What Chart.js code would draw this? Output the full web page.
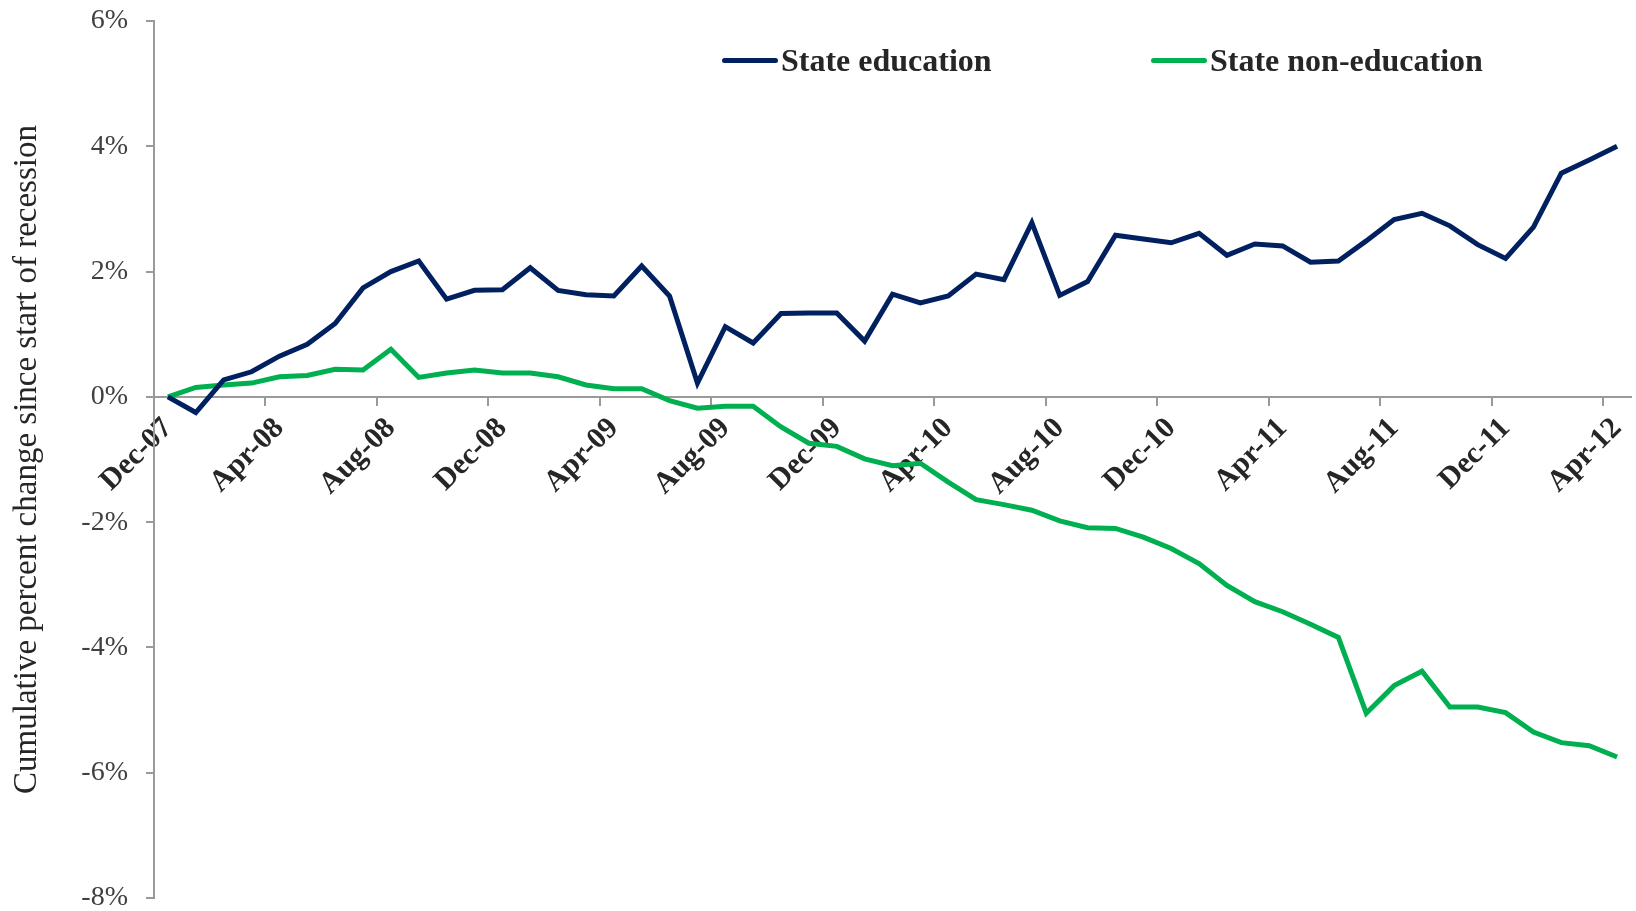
<!DOCTYPE html>
<html>
<head>
<meta charset="utf-8">
<script src="https://cdn.jsdelivr.net/npm/chart.js@4.4.1/dist/chart.umd.min.js"></script>
<style>
  html, body { margin: 0; padding: 0; background: #fff; }
  #wrap { position: relative; width: 1636px; height: 911px; }
  .legend-item {
    position: absolute;
    top: 42px;
    display: flex;
    align-items: center;
    font-family: "Liberation Serif", "DejaVu Serif", serif;
    font-weight: bold;
    font-size: 32px;
    color: #262626;
    white-space: nowrap;
  }
  .legend-item .swatch {
    display: inline-block;
    width: 56px;
    height: 5px;
    border-radius: 3px;
    margin-right: 3px;
  }
</style>
</head>
<body>
<div id="wrap">
  <canvas id="chart" width="1636" height="911"></canvas>
  <div class="legend-item" style="left:722px;"><span class="swatch" style="background:#002060;"></span>State education</div>
  <div class="legend-item" style="left:1151px;"><span class="swatch" style="background:#00b050;"></span>State non-education</div>
</div>
<script>
// months since start of recession
const months = [
  "Dec-07",
  "Jan-08", "Feb-08", "Mar-08", "Apr-08", "May-08", "Jun-08", "Jul-08", "Aug-08", "Sep-08", "Oct-08", "Nov-08", "Dec-08",
  "Jan-09", "Feb-09", "Mar-09", "Apr-09", "May-09", "Jun-09", "Jul-09", "Aug-09", "Sep-09", "Oct-09", "Nov-09", "Dec-09",
  "Jan-10", "Feb-10", "Mar-10", "Apr-10", "May-10", "Jun-10", "Jul-10", "Aug-10", "Sep-10", "Oct-10", "Nov-10", "Dec-10",
  "Jan-11", "Feb-11", "Mar-11", "Apr-11", "May-11", "Jun-11", "Jul-11", "Aug-11", "Sep-11", "Oct-11", "Nov-11", "Dec-11",
  "Jan-12", "Feb-12", "Mar-12", "Apr-12"
];

const stateEducation = [
  0, -0.25, 0.27, 0.40, 0.65, 0.84, 1.17, 1.74, 2.00, 2.17,
  1.56, 1.70, 1.71, 2.06, 1.70, 1.63, 1.61, 2.09, 1.61, 0.22,
  1.12, 0.86, 1.33, 1.34, 1.34, 0.89, 1.64, 1.50, 1.61, 1.96,
  1.87, 2.78, 1.62, 1.84, 2.58, 2.52, 2.46, 2.61, 2.26, 2.44,
  2.41, 2.15, 2.17, 2.49, 2.83, 2.93, 2.73, 2.43, 2.21, 2.71,
  3.57, 3.78, 4.00
];

const stateNonEducation = [
  0, 0.15, 0.19, 0.22, 0.32, 0.34, 0.44, 0.43, 0.76, 0.31,
  0.38, 0.43, 0.38, 0.38, 0.32, 0.19, 0.13, 0.13, -0.06, -0.18,
  -0.15, -0.15, -0.48, -0.74, -0.79, -0.99, -1.10, -1.06, -1.36, -1.64,
  -1.72, -1.81, -1.98, -2.09, -2.10, -2.24, -2.42, -2.66, -3.01, -3.27,
  -3.43, -3.63, -3.84, -5.05, -4.61, -4.38, -4.95, -4.95, -5.04, -5.35,
  -5.52, -5.57, -5.75
];

const yMin = -8;
const yMax = 6;
const yStep = 2;
const labelEvery = 4;

const serif = "'Liberation Serif', 'DejaVu Serif', serif";
const axisGray = "#9a9a9a";

new Chart(document.getElementById("chart"), {
  type: "line",
  data: {
    labels: months,
    datasets: [
      {
        label: "State education",
        data: stateEducation,
        borderColor: "#002060",
        borderWidth: 5,
        pointRadius: 0,
        tension: 0,
        fill: false,
      },
      {
        label: "State non-education",
        data: stateNonEducation,
        borderColor: "#00b050",
        borderWidth: 5,
        pointRadius: 0,
        tension: 0,
        fill: false,
      },
    ],
  },
  options: {
    responsive: false,
    animation: false,
    layout: { padding: { top: 21, right: 5, bottom: 13, left: 0 } },
    plugins: {
      legend: { display: false },
      tooltip: { enabled: false },
    },
    scales: {
      x: {
        type: "category",
        position: { y: 0 },
        offset: true,
        border: { color: axisGray, width: 2 },
        grid: {
          offset: true,
          drawOnChartArea: false,
          tickLength: 8,
          lineWidth: 2,
          color: (ctx) => (ctx.index % labelEvery === 0 ? axisGray : "rgba(0,0,0,0)"),
        },
        ticks: {
          autoSkip: false,
          minRotation: 45,
          maxRotation: 45,
          padding: 6,
          color: "#262626",
          font: { family: serif, size: 30, weight: "bold" },
          callback: (v, i) => (i % labelEvery === 0 ? months[i] : ""),
        },
        afterFit: (scale) => {
          scale.paddingTop = 0;
          scale.paddingBottom = 0;
          scale.paddingLeft = 0;
          scale.paddingRight = 0;
        },
      },
      y: {
        min: yMin,
        max: yMax,
        border: { color: axisGray, width: 2 },
        grid: {
          drawOnChartArea: false,
          tickLength: 8,
          lineWidth: 2,
          color: axisGray,
        },
        ticks: {
          stepSize: yStep,
          padding: 18,
          color: "#404040",
          font: { family: serif, size: 28 },
          callback: (v) => v + "%",
        },
        title: {
          display: true,
          text: "Cumulative percent change since start of recession",
          color: "#262626",
          font: { family: serif, size: 33 },
          padding: { top: 8, bottom: 0 },
        },
        afterFit: (scale) => {
          scale.width = 154;
          scale.paddingTop = 0;
          scale.paddingBottom = 0;
        },
      },
    },
  },
});
</script>
</body>
</html>
